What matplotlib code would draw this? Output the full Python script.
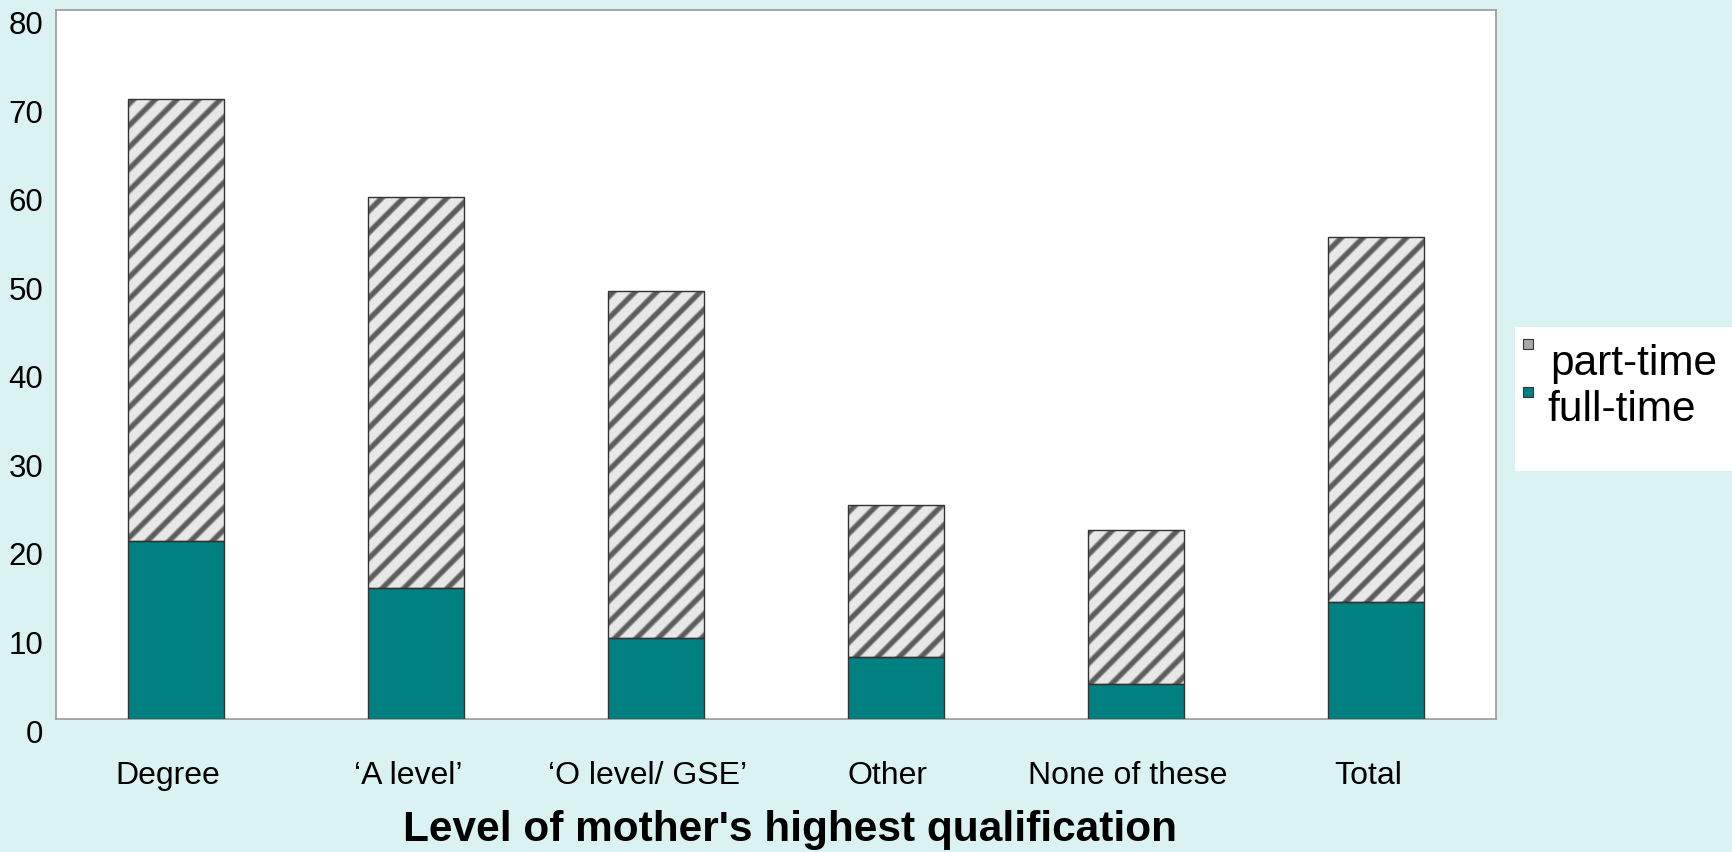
import numpy as np
import matplotlib
matplotlib.use('Agg')
from matplotlib import pyplot as plt
from matplotlib.patches import Rectangle
from matplotlib.transforms import ScaledTranslation

# Share of mothers in work, by highest qualification (percent)
categories = ['Degree', '\u2018A level\u2019', '\u2018O level/ GSE\u2019', 'Other', 'None of these', 'Total']
full_time = [20.0, 14.7, 9.1, 6.9, 3.9, 13.2]
part_time = [49.9, 44.2, 39.2, 17.2, 17.4, 41.2]
y_ticks = [0, 10, 20, 30, 40, 50, 60, 70, 80]

BG = '#daf3f2'
TEAL = '#008080'
EDGE = '#333333'

plt.rcParams['font.family'] = ['Liberation Sans', 'DejaVu Sans']

fig = plt.figure(figsize=(17.33, 8.53), dpi=100, facecolor=BG)
ax = fig.add_axes([0.0323, 0.1565, 0.8309, 0.8306])
ax.set_facecolor('white')

x = np.arange(len(categories)) + 0.5
ax.bar(x, full_time, width=0.4, color=TEAL, edgecolor=EDGE, linewidth=1, zorder=3)
pt_bars = ax.bar(x, part_time, width=0.4, bottom=full_time, facecolor='none',
                 edgecolor=EDGE, linewidth=1, zorder=4)

ax.set_xlim(0, len(categories))
ax.set_ylim(0, 80)

# soft diagonal stripe texture for the part-time segments
fig.canvas.draw()
bb = ax.get_window_extent()
w, h = int(round(bb.width)), int(round(bb.height))
cols, rows = np.meshgrid(np.arange(w), np.arange(h))
phase = (cols - (h - rows)) / 21.7
c = np.cos(2 * np.pi * phase)
dark = np.clip((c + 0.05) / 1.0, 0, 1)
dark = dark * dark * (3 - 2 * dark)
texture = 0.91 - (0.91 - 0.36) * dark
for bar in pt_bars:
    im = ax.imshow(texture, cmap='gray', vmin=0, vmax=1, extent=(0, len(categories), 0, 80),
                   origin='upper', aspect='auto', interpolation='bilinear', zorder=2)
    im.set_clip_path(bar)

ax.set_xlim(0, len(categories))
ax.set_ylim(0, 80)

for side in ax.spines.values():
    side.set_color('#999999')
    side.set_linewidth(1.2)

ax.set_yticks(y_ticks)
ax.set_yticklabels([str(v) for v in y_ticks], fontsize=22.5)
ax.tick_params(axis='y', length=0, pad=9)
for lbl in ax.get_yticklabels():
    lbl.set_verticalalignment('top')

ax.set_xticks(x)
ax.set_xticklabels(categories, fontsize=23)
ax.tick_params(axis='x', length=0, pad=30)
shift = ScaledTranslation(-8 / 100, 0, fig.dpi_scale_trans)
for lbl in ax.get_xticklabels():
    lbl.set_transform(lbl.get_transform() + shift)

fig.text(790 / 1733, 1 - 830 / 853, "Level of mother's highest qualification",
         fontsize=30.5, fontweight='bold', ha='center', va='center')

# legend panel on the right
fig.patches.append(Rectangle((1515 / 1733, 1 - 472 / 853), 218 / 1733, 144 / 853,
                             transform=fig.transFigure, facecolor='white', edgecolor='none'))
fig.patches.append(Rectangle((1523 / 1733, 1 - 350 / 853), 10 / 1733, 10 / 853,
                             transform=fig.transFigure, facecolor='#a8a8a8', edgecolor=EDGE, linewidth=0.8))
fig.patches.append(Rectangle((1523 / 1733, 1 - 398 / 853), 10 / 1733, 10 / 853,
                             transform=fig.transFigure, facecolor=TEAL, edgecolor=EDGE, linewidth=0.8))
fig.text(1550 / 1733, 1 - 364 / 853, 'part-time', fontsize=30.5, ha='left', va='center')
fig.text(1547 / 1733, 1 - 410 / 853, 'full-time', fontsize=30.5, ha='left', va='center')

fig.savefig('out.png', dpi=100, facecolor=BG)
